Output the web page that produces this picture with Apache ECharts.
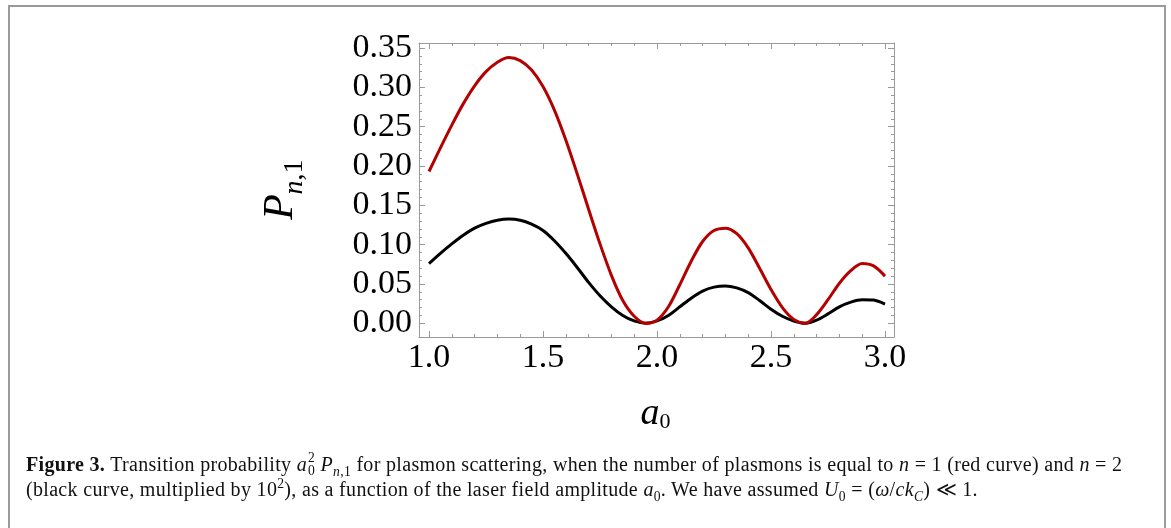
<!DOCTYPE html>
<html>
<head>
<meta charset="utf-8">
<script src="https://cdn.jsdelivr.net/npm/echarts@6/dist/echarts.min.js"></script>
<style>
    html, body { margin: 0; padding: 0; background: #fff; }
    #wrap { position: relative; width: 1171px; height: 528px; overflow: hidden; }
    #frame { position: absolute; left: 8px; top: 5px; width: 1154px; height: 540px; border: 2px solid #9a9a9a; }
    #main { position: absolute; left: 0; top: 0; width: 1171px; height: 528px; }
    #caption {
        position: absolute; left: 26px; top: 452px; white-space: nowrap; letter-spacing: 0.32px;
        font-family: 'Liberation Serif', 'DejaVu Serif', serif; font-size: 20px; line-height: 22px; color: #111;
    }
    #caption sup, #caption sub { font-size: 0.68em; line-height: 0; }
    .ss { display: inline-block; vertical-align: -0.32em; font-size: 0.68em; line-height: 0.95; margin-left: 1px; }
    .ss span { display: block; }
</style>
</head>
<body>
<div id="wrap">
    <div id="frame"></div>
    <div id="main"></div>
    <div id="caption">
        <b>Figure 3.</b> Transition probability <i>a</i><span class="ss"><span>2</span><span>0</span></span> <i>P</i><sub><i>n</i>,1</sub> for plasmon scattering, when the number of plasmons is equal to <i>n</i> = 1 (red curve) and <i>n</i> = 2<br>
        (black curve, multiplied by 10<sup>2</sup>), as a function of the laser field amplitude <i>a</i><sub>0</sub>. We have assumed <i>U</i><sub>0</sub> = (<i>ω</i>/<i>ck</i><sub><i>C</i></sub>) ≪ 1.
    </div>
</div>
<script>
// laser field amplitude a0
var xVals = [1.00, 1.05, 1.10, 1.15, 1.20, 1.25, 1.30, 1.35, 1.40, 1.45,
    1.50, 1.55, 1.60, 1.65, 1.70, 1.75, 1.80, 1.85, 1.90, 1.95,
    2.00, 2.05, 2.10, 2.15, 2.20, 2.25, 2.30, 2.35, 2.40, 2.45,
    2.50, 2.55, 2.60, 2.65, 2.70, 2.75, 2.80, 2.85, 2.90, 2.95, 3.00];
// n = 1 (red)
var redVals = [0.193, 0.223, 0.252, 0.279, 0.302, 0.320, 0.332, 0.338, 0.334, 0.322,
    0.301, 0.271, 0.233, 0.190, 0.145, 0.101, 0.061, 0.029, 0.009, 0.000,
    0.004, 0.021, 0.049, 0.079, 0.104, 0.118, 0.121, 0.114, 0.096, 0.070,
    0.043, 0.020, 0.005, 0.000, 0.011, 0.030, 0.051, 0.067, 0.076, 0.073, 0.060];
// n = 2 (black, x 10^2)
var blackVals = [0.076, 0.089, 0.101, 0.112, 0.121, 0.127, 0.131, 0.1325, 0.131, 0.126,
    0.118, 0.105, 0.089, 0.071, 0.052, 0.035, 0.021, 0.010, 0.003, 0.000,
    0.003, 0.010, 0.021, 0.032, 0.041, 0.046, 0.0475, 0.045, 0.039, 0.029,
    0.018, 0.009, 0.003, 0.000, 0.004, 0.012, 0.021, 0.027, 0.030, 0.0295, 0.0245];

var xTicks = [1.0, 1.5, 2.0, 2.5, 3.0];
var xMinor = [1.1, 1.2, 1.3, 1.4, 1.6, 1.7, 1.8, 1.9, 2.1, 2.2, 2.3, 2.4, 2.6, 2.7, 2.8, 2.9];
var yTicks = [0, 0.05, 0.10, 0.15, 0.20, 0.25, 0.30, 0.35];
var yMinor = [0.01, 0.02, 0.03, 0.04, 0.06, 0.07, 0.08, 0.09, 0.11, 0.12, 0.13, 0.14,
    0.16, 0.17, 0.18, 0.19, 0.21, 0.22, 0.23, 0.24, 0.26, 0.27, 0.28, 0.29, 0.31, 0.32, 0.33, 0.34];

var serif = "'Liberation Serif', 'DejaVu Serif', serif";
var gray = '#9a9a9a';

function xAxisOf(pos, ticks, len, withLine, withLabel) {
    return {
        type: 'value', position: pos, min: 0.9561, max: 3.0395,
        axisLine: {show: withLine, onZero: false, lineStyle: {color: gray, width: 1}},
        axisTick: {show: true, inside: true, length: len, customValues: ticks, lineStyle: {color: gray, width: 1}},
        axisLabel: withLabel ? {
            show: true, customValues: ticks, margin: 4, color: '#000',
            fontFamily: serif, fontSize: 34,
            formatter: function (v) { return v.toFixed(1); }
        } : {show: false},
        splitLine: {show: false}
    };
}

function yAxisOf(pos, ticks, len, withLine, withLabel) {
    return {
        type: 'value', position: pos, min: -0.0174, max: 0.3564,
        axisLine: {show: withLine, onZero: false, lineStyle: {color: gray, width: 1}},
        axisTick: {show: true, inside: true, length: len, customValues: ticks, lineStyle: {color: gray, width: 1}},
        axisLabel: withLabel ? {
            show: true, customValues: ticks, margin: 7, color: '#000',
            fontFamily: serif, fontSize: 34,
            formatter: function (v) { return v.toFixed(2); }
        } : {show: false},
        splitLine: {show: false}
    };
}

function pairs(ys) {
    return xVals.map(function (x, i) { return [x, ys[i]]; });
}

var chart = echarts.init(document.getElementById('main'), null, {renderer: 'canvas'});

var option = {
    animation: false,
    backgroundColor: 'transparent',
    grid: {left: 419, top: 43, width: 475, height: 294, containLabel: false},
    xAxis: [
        xAxisOf('bottom', xTicks, 6, true, true),
        xAxisOf('bottom', xMinor, 3, false, false),
        xAxisOf('top', xTicks, 6, true, false),
        xAxisOf('top', xMinor, 3, false, false)
    ],
    yAxis: [
        yAxisOf('left', yTicks, 6, true, true),
        yAxisOf('left', yMinor, 3, false, false),
        yAxisOf('right', yTicks, 6, true, false),
        yAxisOf('right', yMinor, 3, false, false)
    ],
    series: [
        {
            name: 'n = 2', type: 'line', data: pairs(blackVals), smooth: 0.3,
            showSymbol: false, lineStyle: {color: '#000', width: 3}
        },
        {
            name: 'n = 1', type: 'line', data: pairs(redVals), smooth: 0.3,
            showSymbol: false, lineStyle: {color: '#b30000', width: 3}
        }
    ],
    graphic: [
        // y axis name P_{n,1}, rotated
        {
            type: 'text', x: 302, y: 207, rotation: Math.PI / 2,
            style: {text: 'P', font: 'italic 42px ' + serif, fill: '#000', align: 'center', verticalAlign: 'bottom'}
        },
        {
            type: 'text', x: 309, y: 177, rotation: Math.PI / 2,
            style: {
                text: '{i|n},1',
                font: '28px ' + serif, fill: '#000', align: 'center', verticalAlign: 'bottom',
                rich: {i: {fontStyle: 'italic', fontFamily: serif, fontSize: 28}}
            }
        },
        // x axis name a_0
        {
            type: 'text', x: 650, y: 433,
            style: {text: 'a', font: 'italic 38px ' + serif, fill: '#000', align: 'center', verticalAlign: 'bottom'}
        },
        {
            type: 'text', x: 665, y: 433,
            style: {text: '0', font: '22px ' + serif, fill: '#000', align: 'center', verticalAlign: 'bottom'}
        }
    ]
};

option && chart.setOption(option);
</script>
</body>
</html>
